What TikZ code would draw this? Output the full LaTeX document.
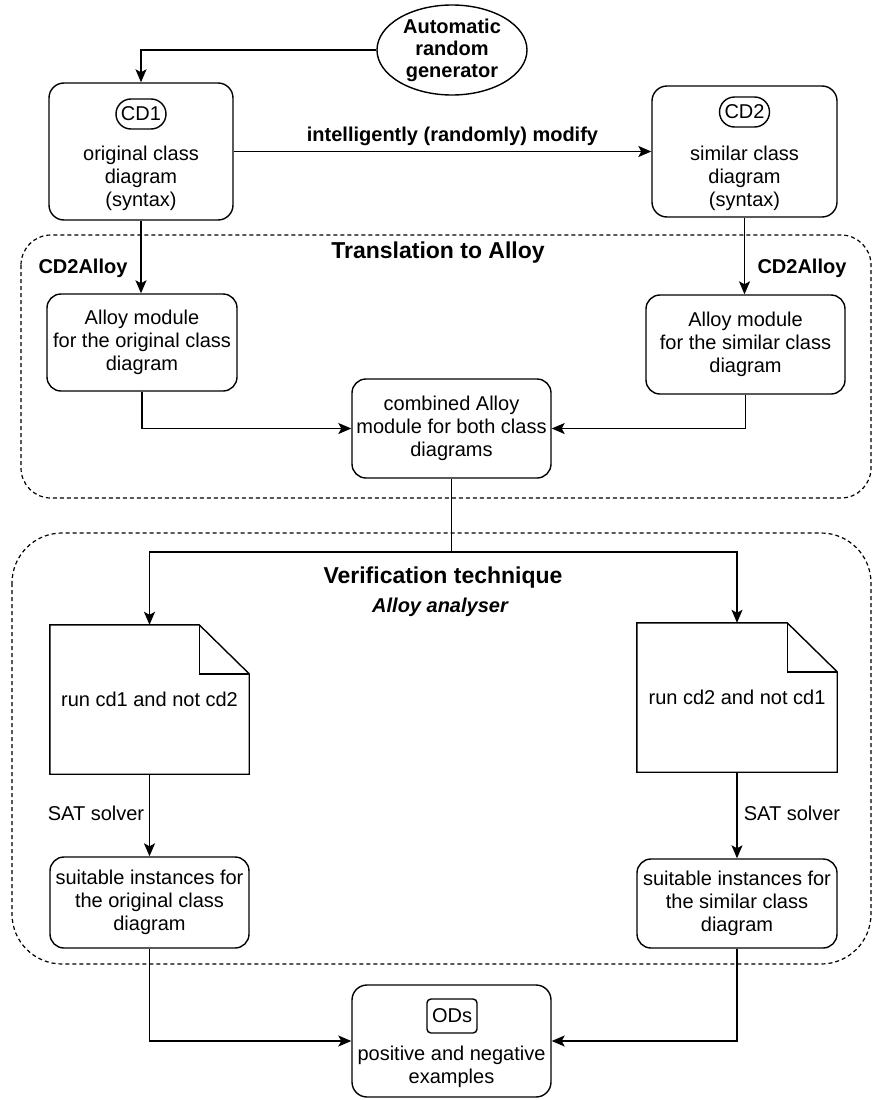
\documentclass[tikz,border=0pt]{standalone}
\usepackage{fontspec}
\setmainfont{Liberation Sans}
\usetikzlibrary{arrows.meta,shapes.geometric,calc}

\tikzset{
  base/.style={font=\fontsize{20}{23}\selectfont, align=center, inner sep=0pt},
  box/.style={base, draw, line width=1.4pt, rounded corners=15pt},
  pill/.style={base, draw, line width=1.4pt, rounded corners=15pt, minimum width=50pt, minimum height=30pt},
  tag/.style={base, draw, line width=1.4pt, rounded corners=4pt, minimum width=50pt, minimum height=34pt},
  conn/.style={line width=1.4pt},
  arr/.style={conn, -{Stealth[length=13pt,width=11pt,inset=3pt]}},
  group/.style={line width=1.2pt, dash pattern=on 4pt off 3pt},
  lbl/.style={base},
  blbl/.style={base, font=\fontsize{20}{23}\selectfont\bfseries},
  title/.style={base, font=\fontsize{23}{26}\selectfont\bfseries},
}

\begin{document}
\begin{tikzpicture}[x=1pt, y=-1pt]
\useasboundingbox (0,0) rectangle (873,1100);

% dashed group frames
\draw[group, rounded corners=30pt] (21,235) rectangle (871,498);
\draw[group, rounded corners=50pt] (12,533) rectangle (871,964);

% generator
\node[draw, ellipse, line width=1.4pt, minimum width=150pt, minimum height=90pt, inner sep=0pt] (gen) at (452,50) {};
\node[base, font=\fontsize{20}{22}\selectfont\bfseries] (gentxt) at (gen.center) {Automatic\\random\\generator};

% class diagrams
\node[box, minimum width=184pt, minimum height=137pt] (cd1) at (141,151.5) {};
\node[pill] (cd1tag) at (141,114) {CD1};
\node[lbl] (cd1txt) at (141,178) {original class\\diagram\\(syntax)};

\node[box, minimum width=185pt, minimum height=131pt] (cd2) at (744.5,151.5) {};
\node[pill] (cd2tag) at (744.5,112) {CD2};
\node[lbl] (cd2txt) at (744.5,178) {similar class\\diagram\\(syntax)};

% translation to Alloy
\node[title] (ttitle) at (438,253) {Translation to Alloy};
\node[box, rounded corners=14pt, minimum width=190pt, minimum height=97pt] (am1) at (142,342.5) {Alloy module\\for the original class\\diagram};
\node[box, rounded corners=14pt, minimum width=199pt, minimum height=99pt] (am2) at (745.5,344.5) {Alloy module\\for the similar class\\diagram};
\node[box, rounded corners=14pt, minimum width=199pt, minimum height=99pt] (comb) at (451.5,428.5) {combined Alloy\\module for both class\\diagrams};

% verification
\node[title] (vtitle) at (443,578) {Verification technique};
\node[base, font=\fontsize{20}{23}\selectfont\bfseries\itshape] (vsub) at (440,607) {Alloy analyser};

\node[lbl, minimum width=199pt, minimum height=149pt] (doc1) at (149.5,699.5) {run cd1 and not cd2};
\node[lbl, minimum width=200pt, minimum height=149pt] (doc2) at (737,697.5) {run cd2 and not cd1};
\foreach \d in {doc1,doc2}{
  \draw[conn, line join=miter] (\d.north west) -- ($(\d.north east)+(-50,0)$) -- ($(\d.north east)+(0,49)$)
      -- (\d.south east) -- (\d.south west) -- cycle;
  \draw[conn, line join=miter] ($(\d.north east)+(-50,0)$) -- ($(\d.north east)+(-50,49)$) -- ($(\d.north east)+(0,49)$);
}

\node[box, rounded corners=14pt, minimum width=199pt, minimum height=91pt] (suit1) at (149.5,902.5) {suitable instances for\\the original class\\diagram};
\node[box, rounded corners=14pt, minimum width=200pt, minimum height=89pt] (suit2) at (737,903.5) {suitable instances for\\the similar class\\diagram};

% result
\node[box, minimum width=199pt, minimum height=112pt] (ods) at (451.5,1041) {};
\node[tag] (odstag) at (452,1016) {ODs};
\node[lbl] (odstxt) at (451.5,1066.5) {positive and negative\\examples};

% connectors
\draw[arr] (gen.west) -| (cd1.north);
\draw[arr] (cd1.east) -- node[blbl, above=5pt, xshift=10pt] {intelligently (randomly) modify} (cd2.west);
\draw[arr] (cd1.south) -- (cd1.south |- am1.north);
\node[blbl] (lcd2a) at (83,268) {CD2Alloy};
\draw[arr] (cd2.south) -- (cd2.south |- am2.north);
\node[blbl] (rcd2a) at (802,268) {CD2Alloy};
\draw[arr] (am1.south) |- (comb.west);
\draw[arr] (am2.south) |- (comb.east);

\coordinate (split) at (451.5,552);
\draw[conn] (comb.south) -- (split);
\draw[arr] (split) -| (doc1.north);
\draw[arr] (split) -| (doc2.north);

\draw[arr] (doc1.south) -- (suit1.north);
\node[lbl] (sat1) at (96,813) {SAT solver};
\draw[arr] (doc2.south) -- (suit2.north);
\node[lbl] (sat2) at (792,813) {SAT solver};

\draw[arr] (suit1.south) |- (ods.west);
\draw[arr] (suit2.south) |- (ods.east);
\end{tikzpicture}
\end{document}
